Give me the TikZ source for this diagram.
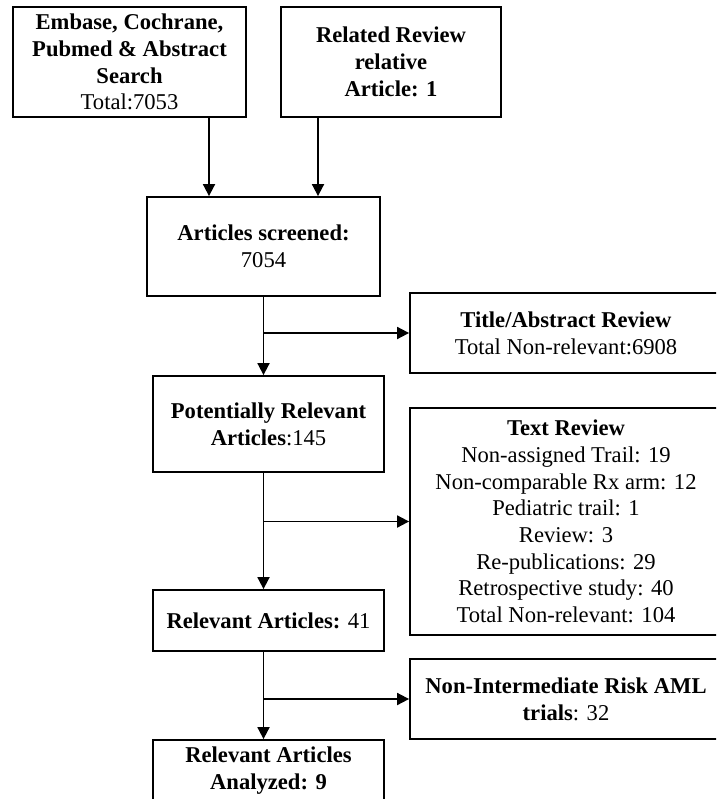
\documentclass[tikz,border=0pt]{standalone}
\usepackage{fontspec}
\setmainfont{Liberation Serif}
\usetikzlibrary{arrows.meta}
\begin{document}
\begin{tikzpicture}[x={(1pt,0)},y={(0,-1pt)},
  box/.style={draw,line width=1.8pt,rectangle,inner sep=0pt,align=center,
    font=\fontsize{22.6}{26.7}\selectfont},
  arr/.style={line width=1.8pt,-{Triangle[length=12pt,width=12pt]}}]
\useasboundingbox (0,0) rectangle (716,799);
\clip (0,0) rectangle (716,799);
\fill[white] (0,0) rectangle (716,799);
\node[box,minimum width=233pt,minimum height=110pt] (b1) at (129.5,62)
  {\textbf{Embase, Cochrane,}\\\textbf{Pubmed \& Abstract}\\\textbf{Search}\\Total:7053};
\node[box,minimum width=220pt,minimum height=110pt] (b2) at (391,62)
  {\textbf{Related Review}\\\textbf{relative}\\\textbf{Article:} \textbf{1}};
\node[box,minimum width=233pt,minimum height=99pt] (scr) at (263.5,246.5)
  {\textbf{Articles screened:}\\7054};
\node[box,minimum width=312pt,minimum height=80pt] (title) at (566,333)
  {\textbf{Title/Abstract Review}\\Total Non-relevant:6908};
\node[box,minimum width=231pt,minimum height=96pt] (pot) at (268.5,424)
  {\textbf{Potentially Relevant}\\\textbf{Articles}:145};
\node[box,minimum width=312pt,minimum height=227pt] (txt) at (566,521.5)
  {\textbf{Text Review}\\Non-assigned Trail: 19\\Non-comparable Rx arm: 12\\Pediatric trail: 1\\Review: 3\\Re-publications: 29\\Retrospective study: 40\\Total Non-relevant: 104};
\node[box,minimum width=231pt,minimum height=61pt] (rel) at (268.5,620.5)
  {\textbf{Relevant Articles:} 41};
\node[box,minimum width=312pt,minimum height=80pt] (nonint) at (566,699)
  {\textbf{Non-Intermediate Risk AML}\\\textbf{trials}: 32};
\node[box,minimum width=231pt,minimum height=61pt] (fin) at (268.5,770.5)
  {\textbf{Relevant Articles}\\\textbf{Analyzed: 9}};
% connectors
\draw[arr] ([xshift=79.5pt]b1.south) -- ([xshift=-54.5pt]scr.north);
\draw[arr] ([xshift=-73pt]b2.south) -- ([xshift=54.5pt]scr.north);
\draw[arr] (scr.south) -- (scr.south |- pot.north);
\draw[arr] (scr.south |- title.west) -- (title.west);
\draw[arr] (scr.south |- pot.south) -- (scr.south |- rel.north);
\draw[arr] (scr.south |- txt.west) -- (txt.west);
\draw[arr] (scr.south |- rel.south) -- (scr.south |- fin.north);
\draw[arr] (scr.south |- nonint.west) -- (nonint.west);
\end{tikzpicture}
\end{document}
